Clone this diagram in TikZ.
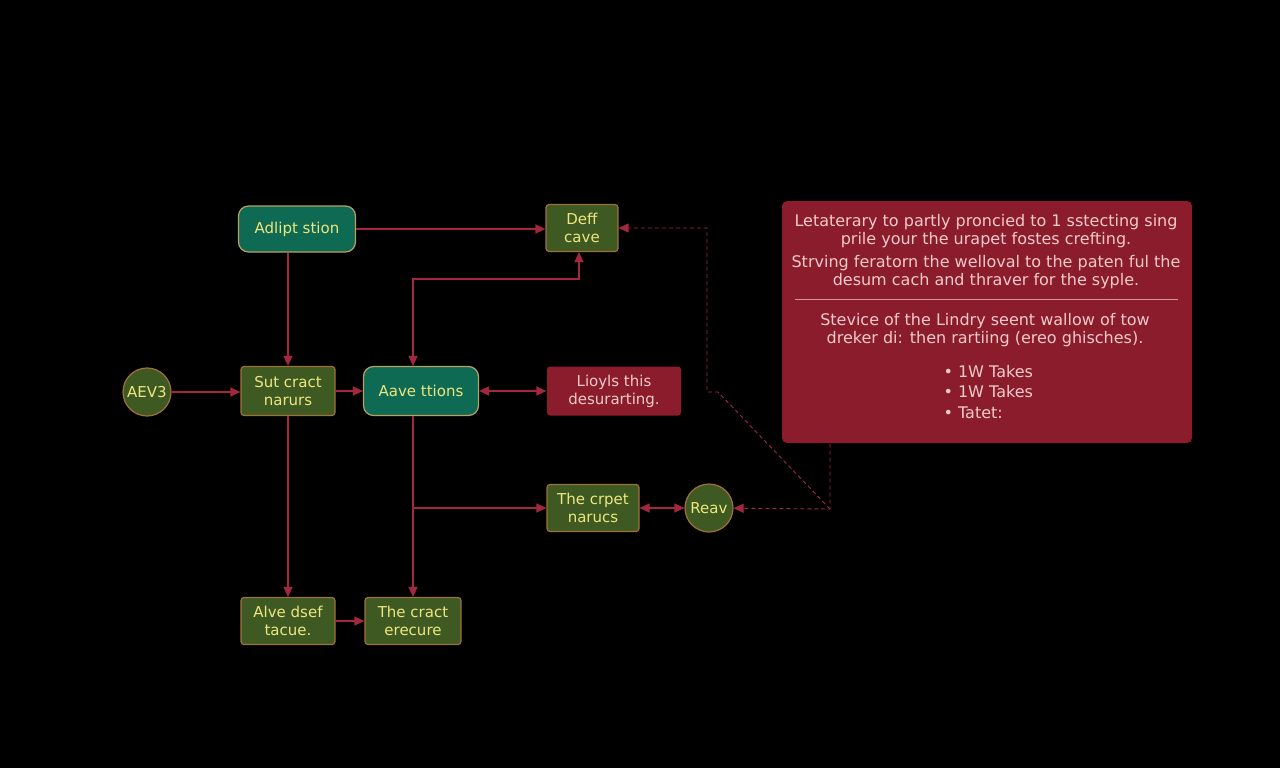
\documentclass[tikz,border=0pt]{standalone}
\usepackage{fontspec}
\setmainfont{DejaVu Sans}
\usepackage{xcolor}
\usepackage{tikz}
\usetikzlibrary{positioning,arrows.meta}

\definecolor{tealfill}{HTML}{0E6A52}
\definecolor{tealedge}{HTML}{B8A060}
\definecolor{olivebox}{HTML}{3E5A22}
\definecolor{boxedge}{HTML}{A0703A}
\definecolor{redfill}{HTML}{8A1C2C}
\definecolor{pinktext}{HTML}{F2CACA}
\definecolor{labelyel}{HTML}{EEE680}
\definecolor{linkred}{HTML}{A3283F}

\begin{document}
\begin{tikzpicture}[x=1pt, y=-1pt, font=\fontsize{15}{18}\selectfont,
  box/.style={draw=boxedge, fill=olivebox, text=labelyel, rounded corners=3pt,
              align=center, inner sep=2pt, line width=1.2pt},
  tealbox/.style={box, draw=tealedge, fill=tealfill, rounded corners=10pt},
  redbox/.style={box, draw=none, fill=redfill, text=pinktext},
  blob/.style={circle, draw=boxedge, fill=olivebox, text=labelyel, line width=1.2pt,
               minimum size=48pt, inner sep=0pt},
  arr/.style={-{Triangle[length=10pt,width=9pt]}, draw=linkred, line width=1.4pt},
  darr/.style={arr, {Triangle[length=10pt,width=9pt]}-{Triangle[length=10pt,width=9pt]}},
  hint/.style={-{Triangle[length=10pt,width=9pt]}, draw=linkred, line width=0.9pt,
               dash pattern=on 4pt off 3pt},
  notetext/.style={text=pinktext, align=center, font=\fontsize{16}{18.5}\selectfont}]
\useasboundingbox[fill=black] (0,0) rectangle (1280,768);

% left column and flow
\node[tealbox, minimum width=117pt, minimum height=46pt] (adapt) at (297,229) {Adlipt stion};
\node[box, minimum width=72pt, minimum height=47pt] (deff) at (582,228) {Deff\\cave};
\node[blob] (aev) at (147,392) {AEV3};
\node[box, minimum width=94pt, minimum height=49pt] (sut) at (288,391) {Sut cract\\narurs};
\node[tealbox, minimum width=115pt, minimum height=49pt] (aave) at (421,391) {Aave ttions};
\node[redbox, minimum width=134pt, minimum height=49pt] (lioy) at (614,391) {Lioyls this\\desurarting.};
\node[box, minimum width=92pt, minimum height=47pt] (crpet) at (593,508) {The crpet\\narucs};
\node[blob] (reav) at (709,508) {Reav};
\node[box, minimum width=94pt, minimum height=47pt] (alve) at (288,621) {Alve dsef\\tacue.};
\node[box, minimum width=96pt, minimum height=47pt] (cract) at (413,621) {The cract\\erecure};

% note panel
\node[redbox, minimum width=410pt, minimum height=242pt, rounded corners=5pt] (note) at (987,322) {};
\node[notetext] (para1) at (986,231) {Letaterary to partly proncied to 1 sstecting sing\\prile your the urapet fostes crefting.};
\node[notetext] (para2) at (986,272) {Strving feratorn the welloval to the paten ful the\\desum cach and thraver for the syple.};
\draw[pinktext!70!redfill, line width=0.8pt] (795,299) -- (1178,299);
\node[notetext] (para3) at (985,330) {Stevice of the Lindry seent wallow of tow\\dreker di: then rartiing (ereo ghisches).};
\node[notetext, align=left, anchor=west, font=\fontsize{16}{20.5}\selectfont] (items) at (940,392)
  {• 1W Takes\\• 1W Takes\\• Tatet:};

% connectors
\draw[arr] (adapt.east) -- (adapt.east -| deff.west);
\draw[arr] (adapt.south -| sut.north) -- (sut.north);
\draw[darr] (cract.north |- aave.north) -- ++(0,-87) -| ([xshift=-3pt]deff.south);
\draw[arr] (aev.east) -- (aev.east -| sut.west);
\draw[arr] (sut) -- (aave);
\draw[darr] (aave) -- (lioy);
\draw[arr] (sut) -- (alve);
\draw[arr] (cract.north |- aave.south) -- (cract.north);
\coordinate (fork) at (cract.north |- crpet.west);
\draw[arr] (fork) -- (crpet);
\draw[arr] (alve) -- (cract);
\draw[darr] (crpet) -- (reav);

% dashed links from the note
\coordinate (drop) at (830,509);
\coordinate (knee) at (718,392);
\draw[hint] (note.south -| drop) -- (drop) -- (reav);
\draw[hint] (drop) -- (knee) -- ++(-11,0) |- (deff.east);
\end{tikzpicture}
\end{document}
